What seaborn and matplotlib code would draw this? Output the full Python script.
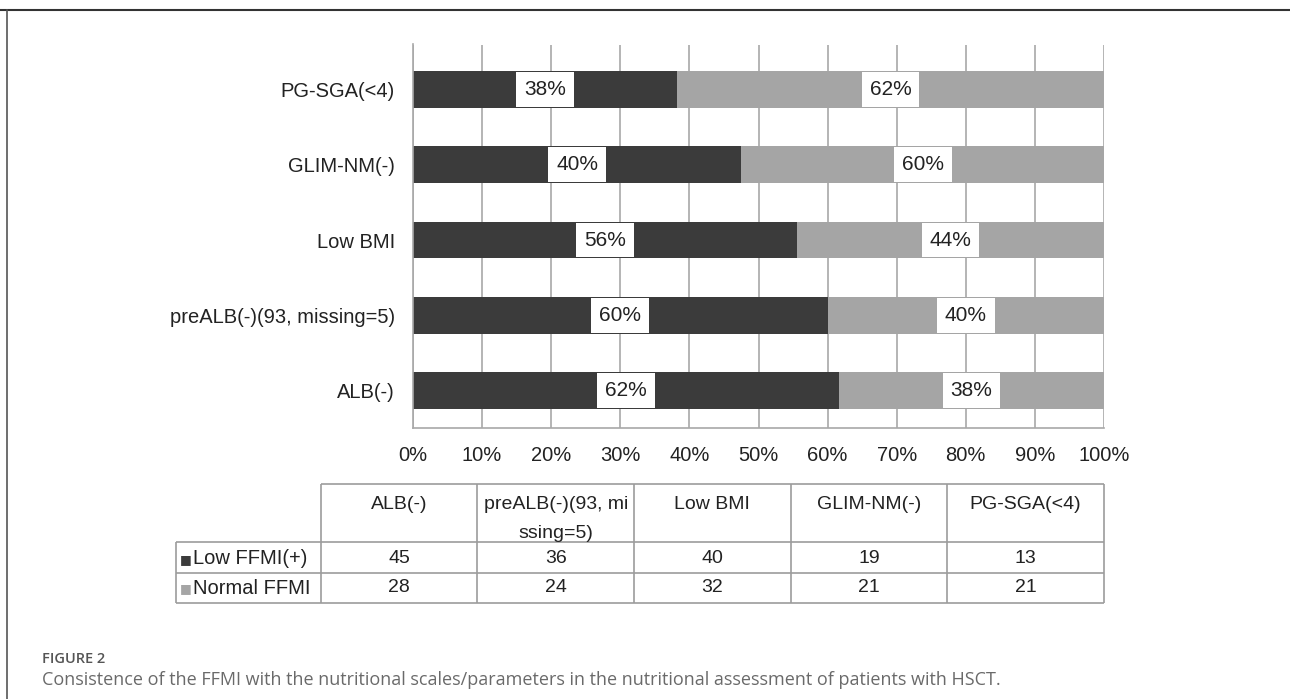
import numpy as np
import pandas as pd
import matplotlib
matplotlib.use("Agg")
import matplotlib.pyplot as plt
import seaborn as sns

# ---------------- data ----------------
categories = ["ALB(-)", "preALB(-)(93, missing=5)", "Low BMI", "GLIM-NM(-)", "PG-SGA(<4)"]
header_labels = ["ALB(-)", "preALB(-)(93, mi\nssing=5)", "Low BMI", "GLIM-NM(-)", "PG-SGA(<4)"]
low_ffmi = [45, 36, 40, 19, 13]
normal_ffmi = [28, 24, 32, 21, 21]
low_labels = ["62%", "60%", "56%", "40%", "38%"]
normal_labels = ["38%", "40%", "44%", "60%", "62%"]
series_names = ["Low FFMI(+)", "Normal FFMI"]
xtick_values = [0, 10, 20, 30, 40, 50, 60, 70, 80, 90, 100]
xtick_labels = ["0%", "10%", "20%", "30%", "40%", "50%", "60%", "70%", "80%", "90%", "100%"]
fig_label = "FIGURE 2"
caption = ("Consistence of the FFMI with the nutritional scales/parameters in the "
           "nutritional assessment of patients with HSCT.")

# ---------------- styling ----------------
DARK = "#3b3b3b"
LIGHT = "#a5a5a5"
GRID = "#a8a8a8"
TEXT = "#222222"

sns.set_theme(style="white")
plt.rcParams["font.family"] = ["Liberation Sans", "DejaVu Sans"]

df = pd.DataFrame({"cat": categories, "low": low_ffmi, "normal": normal_ffmi})
df["total"] = df["low"] + df["normal"]
df["low_pct"] = df["low"] / df["total"] * 100
df["all_pct"] = (df["low"] + df["normal"]) / df["total"] * 100
df["low_lab"] = low_labels
df["norm_lab"] = normal_labels
order = categories[::-1]

W, H = 1290, 699
fig = plt.figure(figsize=(W / 100, H / 100), dpi=100)
fig.patch.set_facecolor("white")

ax_left, ax_right, ax_top, ax_bot = 413, 1104, 44.5, 428
ax = fig.add_axes([ax_left / W, 1 - ax_bot / H, (ax_right - ax_left) / W, (ax_bot - ax_top) / H])

sns.barplot(data=df, y="cat", x="all_pct", order=order, color=LIGHT, saturation=1,
            width=0.49, errorbar=None, linewidth=0, ax=ax)
sns.barplot(data=df, y="cat", x="low_pct", order=order, color=DARK, saturation=1,
            width=0.49, errorbar=None, linewidth=0, ax=ax)

ax.set_xlim(0, 100)
ax.set_ylim(4.5, -0.6)
ax.set_xticks(xtick_values)
ax.set_xticklabels(xtick_labels)
ax.set_xlabel("")
ax.set_ylabel("")
ax.set_axisbelow(True)
ax.xaxis.grid(True, color=GRID, lw=1.2)
ax.yaxis.grid(False)
for s in ["top", "right"]:
    ax.spines[s].set_visible(False)
for s in ["left", "bottom"]:
    ax.spines[s].set_color(GRID)
    ax.spines[s].set_linewidth(1.2)
ax.tick_params(axis="x", length=0, labelsize=14.5, colors=TEXT, pad=13)
ax.tick_params(axis="y", length=0, labelsize=14.5, colors=TEXT, pad=13)

box = dict(boxstyle="square,pad=0.38", fc="white", ec="none")
for i, cat in enumerate(order):
    row = df[df["cat"] == cat].iloc[0]
    ax.text(row["low_pct"] / 2, i, row["low_lab"], ha="center", va="center",
            fontsize=15, color=TEXT, bbox=box)
    ax.text((row["low_pct"] + row["all_pct"]) / 2, i, row["norm_lab"], ha="center",
            va="center", fontsize=15, color=TEXT, bbox=box)

# ---------------- data table + frame + caption (overlay in pixel coords) ----------------
tab = fig.add_axes([0, 0, 1, 1])
tab.set_xlim(0, W)
tab.set_ylim(H, 0)
tab.axis("off")

LINE = "#9c9c9c"
x0, x1 = 320.7, 1104
colw = (x1 - x0) / len(categories)
xl = 176
y_head, y_r1, y_r2, y_end = 484, 542, 573, 603
tab.hlines(y_head, x0, x1, color=LINE, lw=1.2)
tab.hlines([y_r1, y_r2, y_end], xl, x1, color=LINE, lw=1.2)
tab.vlines(xl, y_r1, y_end, color=LINE, lw=1.2)
tab.vlines([x0 + k * colw for k in range(len(categories) + 1)], y_head, y_end, color=LINE, lw=1.2)

for k, lab in enumerate(header_labels):
    tab.text(x0 + (k + 0.5) * colw, 496, lab, ha="center", va="top", fontsize=14,
             color=TEXT, linespacing=1.95)
    tab.text(x0 + (k + 0.5) * colw, (y_r1 + y_r2) / 2 + 1, str(low_ffmi[k]), ha="center",
             va="center", fontsize=14, color=TEXT)
    tab.text(x0 + (k + 0.5) * colw, (y_r2 + y_end) / 2, str(normal_ffmi[k]), ha="center",
             va="center", fontsize=14, color=TEXT)

for (ytxt, name, col) in [((y_r1 + y_r2) / 2 + 1, series_names[0], DARK),
                          ((y_r2 + y_end) / 2, series_names[1], LIGHT)]:
    tab.text(180, ytxt + 1, "\u25A0", ha="left", va="center", fontsize=9, color=col,
             family=["DejaVu Sans"])
    tab.text(193, ytxt, name, ha="left", va="center", fontsize=14.5, color=TEXT)

# outer frame (top and left rule)
tab.plot([0, W], [9.5, 9.5], color="#333333", lw=1.5)
tab.plot([7, 7], [9.5, H], color="#555555", lw=1.2)

tab.text(42, 659, fig_label, ha="left", va="center", fontsize=10.5, color="#555555",
         family=["Open Sans", "DejaVu Sans"], weight="semibold")
tab.text(42, 680, caption, ha="left", va="center", fontsize=13, color="#6a6a6a",
         family=["Open Sans", "DejaVu Sans"])

fig.savefig("out.png", dpi=100, facecolor="white")
